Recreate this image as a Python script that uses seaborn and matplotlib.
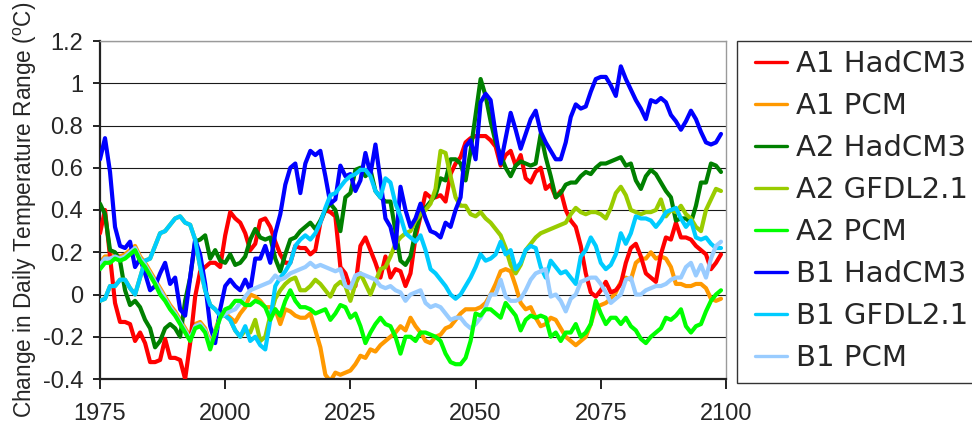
import matplotlib
matplotlib.use("Agg")
import matplotlib.pyplot as plt
import pandas as pd
import seaborn as sns
from matplotlib.lines import Line2D
from matplotlib.patches import Rectangle

# ---------------- data (one value per year 1975..2099) ----------------
YEARS = list(range(1975, 2100))

A1_HADCM3 = [
    0.29, 0.40, 0.18, -0.04, -0.13, -0.13, -0.14, -0.22, -0.18, -0.23,
    -0.32, -0.32, -0.31, -0.21, -0.30, -0.30, -0.31, -0.40, -0.23, -0.01,
    0.11, 0.13, 0.15, 0.15, 0.13, 0.28, 0.39, 0.36, 0.34, 0.29,
    0.21, 0.24, 0.35, 0.36, 0.32, 0.25, 0.19, 0.15, 0.15, 0.23,
    0.22, 0.22, 0.19, 0.21, 0.34, 0.40, 0.39, 0.37, 0.13, 0.10,
    0.03, 0.04, 0.23, 0.27, 0.21, 0.15, 0.08, 0.18, 0.08, 0.12,
    0.11, 0.04, 0.10, 0.27, 0.37, 0.48, 0.46, 0.46, 0.47, 0.44,
    0.57, 0.62, 0.65, 0.72, 0.74, 0.75, 0.75, 0.75, 0.73, 0.70,
    0.61, 0.66, 0.68, 0.61, 0.66, 0.55, 0.53, 0.58, 0.60, 0.50,
    0.52, 0.46, 0.49, 0.40, 0.35, 0.32, 0.23, 0.10, 0.01, -0.01,
    0.02, 0.06, 0.01, 0.02, 0.05, 0.15, 0.22, 0.24, 0.18, 0.10,
    0.08, 0.06, 0.19, 0.27, 0.26, 0.34, 0.27, 0.27, 0.26, 0.23,
    0.21, 0.19, 0.12, 0.15, 0.19,
]

A1_PCM = [
    0.15, 0.18, 0.18, 0.19, 0.18, 0.19, 0.21, 0.23, 0.18, 0.15,
    0.11, 0.07, 0.03, -0.01, -0.05, -0.08, -0.12, -0.16, -0.20, -0.14,
    -0.13, -0.16, -0.23, -0.17, -0.10, -0.09, -0.11, -0.13, -0.09, -0.06,
    0.00, -0.01, -0.03, -0.06, -0.06, -0.07, -0.14, -0.07, -0.08, -0.10,
    -0.11, -0.11, -0.09, -0.17, -0.25, -0.38, -0.41, -0.37, -0.38, -0.37,
    -0.36, -0.33, -0.29, -0.30, -0.26, -0.27, -0.24, -0.22, -0.20, -0.18,
    -0.15, -0.17, -0.11, -0.15, -0.18, -0.22, -0.23, -0.20, -0.19, -0.16,
    -0.15, -0.12, -0.09, -0.07, -0.07, -0.07, -0.06, -0.04, 0.00, 0.05,
    0.11, 0.12, 0.11, 0.04, -0.04, -0.07, -0.06, -0.11, -0.15, -0.14,
    -0.11, -0.12, -0.16, -0.20, -0.22, -0.24, -0.22, -0.20, -0.14, -0.06,
    -0.05, -0.04, -0.02, 0.01, 0.06, 0.08, 0.07, 0.15, 0.17, 0.17,
    0.20, 0.17, 0.18, 0.17, 0.13, 0.05, 0.05, 0.04, 0.04, 0.05,
    0.05, 0.03, -0.02, -0.03, -0.02,
]

A2_HADCM3 = [
    0.43, 0.38, 0.21, 0.20, 0.16, 0.02, -0.05, -0.03, -0.06, -0.12,
    -0.16, -0.25, -0.22, -0.16, -0.14, -0.16, -0.20, -0.03, 0.08, 0.25,
    0.26, 0.28, 0.17, 0.21, 0.16, 0.15, 0.19, 0.14, 0.15, 0.18,
    0.26, 0.31, 0.27, 0.26, 0.27, 0.17, 0.11, 0.19, 0.26, 0.27,
    0.30, 0.32, 0.34, 0.31, 0.35, 0.40, 0.43, 0.40, 0.30, 0.46,
    0.48, 0.59, 0.60, 0.56, 0.59, 0.49, 0.46, 0.44, 0.44, 0.30,
    0.16, 0.14, 0.18, 0.30, 0.38, 0.41, 0.44, 0.47, 0.55, 0.54,
    0.64, 0.64, 0.62, 0.54, 0.68, 0.85, 1.02, 0.94, 0.82, 0.72,
    0.66, 0.60, 0.56, 0.61, 0.63, 0.62, 0.61, 0.62, 0.76, 0.65,
    0.56, 0.46, 0.48, 0.52, 0.53, 0.53, 0.56, 0.58, 0.57, 0.60,
    0.62, 0.62, 0.63, 0.64, 0.65, 0.61, 0.62, 0.54, 0.50, 0.56,
    0.59, 0.57, 0.53, 0.49, 0.46, 0.35, 0.36, 0.36, 0.34, 0.42,
    0.53, 0.53, 0.62, 0.61, 0.58,
]

A2_GFDL21 = [
    -0.03, -0.02, 0.04, 0.04, 0.07, 0.07, 0.03, 0.00, 0.08, 0.16,
    0.17, 0.23, 0.29, 0.30, 0.33, 0.36, 0.37, 0.34, 0.33, 0.26,
    0.13, 0.02, -0.05, -0.07, -0.10, -0.10, -0.12, -0.17, -0.20, -0.17,
    -0.18, -0.12, -0.22, -0.20, -0.10, -0.02, 0.02, 0.05, 0.07, 0.08,
    0.02, 0.02, 0.04, 0.07, 0.05, 0.02, -0.01, 0.04, 0.06, 0.04,
    -0.03, 0.05, 0.10, 0.05, 0.00, 0.06, 0.12, 0.13, 0.18, 0.24,
    0.27, 0.29, 0.30, 0.35, 0.38, 0.40, 0.43, 0.50, 0.68, 0.67,
    0.56, 0.46, 0.42, 0.42, 0.38, 0.37, 0.39, 0.36, 0.34, 0.31,
    0.28, 0.22, 0.14, 0.10, 0.14, 0.21, 0.24, 0.27, 0.29, 0.30,
    0.31, 0.32, 0.33, 0.34, 0.38, 0.41, 0.39, 0.38, 0.39, 0.39,
    0.38, 0.36, 0.41, 0.48, 0.51, 0.47, 0.40, 0.39, 0.38, 0.39,
    0.39, 0.40, 0.45, 0.37, 0.40, 0.39, 0.42, 0.38, 0.36, 0.32,
    0.30, 0.40, 0.45, 0.50, 0.49,
]

A2_PCM = [
    0.12, 0.15, 0.15, 0.17, 0.16, 0.17, 0.19, 0.21, 0.16, 0.13,
    0.09, 0.05, 0.00, -0.03, -0.07, -0.10, -0.14, -0.18, -0.22, -0.16,
    -0.15, -0.18, -0.26, -0.18, -0.11, -0.07, -0.06, -0.03, -0.03, -0.05,
    -0.05, -0.03, -0.04, -0.06, -0.12, -0.07, -0.10, -0.03, 0.02, -0.03,
    -0.06, -0.06, -0.07, -0.09, -0.08, -0.07, -0.12, -0.09, -0.05, -0.06,
    -0.11, -0.09, -0.15, -0.23, -0.18, -0.14, -0.11, -0.14, -0.15, -0.20,
    -0.28, -0.20, -0.20, -0.22, -0.18, -0.18, -0.19, -0.20, -0.22, -0.28,
    -0.32, -0.33, -0.33, -0.30, -0.22, -0.09, -0.10, -0.07, -0.07, -0.09,
    -0.11, -0.04, -0.07, -0.10, -0.17, -0.12, -0.10, -0.11, -0.10, -0.11,
    -0.20, -0.18, -0.22, -0.18, -0.18, -0.14, -0.20, -0.18, -0.14, -0.03,
    -0.09, -0.14, -0.11, -0.11, -0.14, -0.11, -0.15, -0.17, -0.21, -0.23,
    -0.20, -0.18, -0.16, -0.11, -0.12, -0.10, -0.07, -0.15, -0.18, -0.15,
    -0.14, -0.08, -0.03, 0.00, 0.02,
]

B1_HADCM3 = [
    0.64, 0.74, 0.58, 0.32, 0.23, 0.22, 0.25, 0.13, 0.17, 0.10,
    0.02, 0.04, 0.10, 0.15, 0.05, 0.08, -0.07, -0.10, 0.08, 0.26,
    0.19, 0.05, -0.15, -0.23, -0.07, 0.04, 0.07, 0.04, 0.02, 0.07,
    0.02, 0.17, 0.17, 0.23, 0.15, 0.29, 0.38, 0.52, 0.60, 0.62,
    0.48, 0.62, 0.68, 0.66, 0.68, 0.56, 0.43, 0.45, 0.61, 0.56,
    0.57, 0.49, 0.54, 0.67, 0.57, 0.71, 0.54, 0.36, 0.32, 0.22,
    0.51, 0.40, 0.32, 0.36, 0.43, 0.36, 0.30, 0.29, 0.27, 0.34,
    0.32, 0.40, 0.46, 0.70, 0.73, 0.64, 0.91, 0.95, 0.92, 0.76,
    0.62, 0.74, 0.86, 0.78, 0.69, 0.76, 0.83, 0.87, 0.77, 0.72,
    0.68, 0.64, 0.64, 0.72, 0.84, 0.90, 0.88, 0.89, 0.96, 1.02,
    1.03, 1.03, 0.99, 0.94, 1.08, 1.02, 0.97, 0.92, 0.88, 0.83,
    0.92, 0.91, 0.93, 0.91, 0.85, 0.82, 0.78, 0.82, 0.87, 0.83,
    0.77, 0.72, 0.71, 0.72, 0.76,
]

B1_GFDL21 = [
    -0.03, -0.02, 0.04, 0.04, 0.07, 0.07, 0.03, 0.00, 0.08, 0.16,
    0.17, 0.23, 0.29, 0.30, 0.33, 0.36, 0.37, 0.34, 0.33, 0.26,
    0.13, 0.02, -0.05, -0.07, -0.10, -0.10, -0.12, -0.17, -0.20, -0.15,
    -0.22, -0.20, -0.24, -0.26, -0.12, 0.04, 0.08, 0.11, 0.15, 0.23,
    0.26, 0.28, 0.26, 0.29, 0.34, 0.41, 0.47, 0.48, 0.51, 0.54,
    0.56, 0.57, 0.59, 0.59, 0.56, 0.49, 0.46, 0.55, 0.53, 0.43,
    0.37, 0.29, 0.27, 0.25, 0.28, 0.21, 0.12, 0.10, 0.07, 0.04,
    0.00, -0.02, 0.00, 0.04, 0.08, 0.13, 0.19, 0.16, 0.17, 0.19,
    0.25, 0.19, 0.21, 0.12, 0.15, 0.21, 0.23, 0.22, 0.13, 0.08,
    0.16, 0.13, 0.10, 0.11, 0.08, 0.05, 0.18, 0.21, 0.27, 0.23,
    0.15, 0.12, 0.14, 0.19, 0.29, 0.24, 0.29, 0.37, 0.36, 0.36,
    0.35, 0.32, 0.35, 0.39, 0.40, 0.41, 0.36, 0.32, 0.35, 0.27,
    0.26, 0.27, 0.24, 0.22, 0.22,
]

B1_PCM = [
    0.14, 0.17, 0.17, 0.18, 0.17, 0.18, 0.20, 0.22, 0.17, 0.14,
    0.10, 0.06, 0.02, -0.02, -0.06, -0.09, -0.13, -0.17, -0.21, -0.15,
    -0.14, -0.17, -0.24, -0.18, -0.11, -0.09, -0.08, -0.07, -0.04, -0.01,
    0.02, 0.03, 0.04, 0.05, 0.06, 0.09, 0.07, 0.08, 0.10, 0.11,
    0.12, 0.13, 0.15, 0.13, 0.14, 0.13, 0.12, 0.11, 0.12, 0.04,
    0.03, 0.09, 0.10, 0.09, 0.08, 0.07, 0.04, 0.03, 0.04, 0.02,
    0.01, -0.03, 0.00, 0.01, 0.02, -0.04, -0.06, -0.05, -0.06, -0.09,
    -0.12, -0.11, -0.11, -0.14, -0.16, -0.14, -0.11, -0.06, 0.00, 0.00,
    0.07, -0.01, -0.03, -0.03, -0.02, 0.02, 0.07, 0.10, 0.11, 0.12,
    -0.01, 0.00, -0.03, -0.08, -0.02, 0.00, 0.06, 0.07, 0.08, 0.08,
    0.05, 0.01, -0.04, -0.02, 0.00, 0.07, 0.08, 0.00, 0.00, 0.02,
    0.03, 0.04, 0.04, 0.05, 0.07, 0.08, 0.08, 0.13, 0.15, 0.09,
    0.14, 0.08, 0.17, 0.23, 0.25,
]

SERIES_NAMES = ["A1 HadCM3", "A1 PCM", "A2 HadCM3", "A2 GFDL2.1",
                "A2 PCM", "B1 HadCM3", "B1 GFDL2.1", "B1 PCM"]
SERIES_VALUES = [A1_HADCM3, A1_PCM, A2_HADCM3, A2_GFDL21,
                 A2_PCM, B1_HADCM3, B1_GFDL21, B1_PCM]
COLORS = ["#FF0000", "#FF9900", "#008000", "#99CC00",
          "#00FF00", "#0000FF", "#00CCFF", "#99CCFF"]
ZORDERS = [3, 2, 3, 3, 4, 3, 3, 3]

XTICKS = [1975, 2000, 2025, 2050, 2075, 2100]
YTICKS = [-0.4, -0.2, 0.0, 0.2, 0.4, 0.6, 0.8, 1.0, 1.2]
YTICK_LABELS = ["-0.4", "-0.2", "0", "0.2", "0.4", "0.6", "0.8", "1", "1.2"]
YLABEL = r"Change in Daily Temperature Range ($^{\mathrm{o}}$C)"

# ---------------- figure ----------------
sns.set_style("white")
plt.rcParams["font.family"] = ["Liberation Sans", "DejaVu Sans"]
plt.rcParams["mathtext.fontset"] = "custom"
plt.rcParams["mathtext.rm"] = "Liberation Sans"

W, H = 972, 425
fig = plt.figure(figsize=(W / 100, H / 100), dpi=100)
fig.patch.set_facecolor("white")
ax = fig.add_axes([100 / W, 1 - 379 / H, 626 / W, 338 / H])

df = pd.concat(
    [pd.DataFrame({"Year": YEARS, "Value": vals, "Series": name})
     for name, vals in zip(SERIES_NAMES, SERIES_VALUES)],
    ignore_index=True,
)

for name, color, z in zip(SERIES_NAMES, COLORS, ZORDERS):
    sns.lineplot(data=df[df["Series"] == name], x="Year", y="Value",
                 color=color, linewidth=3.0, estimator=None, ax=ax,
                 legend=False, zorder=z)

ax.set_xlim(1975, 2100)
ax.set_ylim(-0.4, 1.2)
ax.set_xticks(XTICKS)
ax.set_xticklabels([str(t) for t in XTICKS])
ax.set_yticks(YTICKS)
ax.set_yticklabels(YTICK_LABELS)
ax.set_xlabel("")
ax.set_ylabel(YLABEL, fontsize=16.3, labelpad=3)

ax.yaxis.grid(True, color="#1a1a1a", linewidth=0.8)
ax.xaxis.grid(False)
ax.set_axisbelow(True)

for side in ["left", "bottom"]:
    ax.spines[side].set_color("#222222")
    ax.spines[side].set_linewidth(1.6)
for side in ["top", "right"]:
    ax.spines[side].set_visible(True)
    ax.spines[side].set_color("#9a9a9a")
    ax.spines[side].set_linewidth(1.0)

ax.tick_params(axis="y", direction="out", length=5, width=1.4,
               color="#222222", pad=7, labelsize=17, left=True)
ax.tick_params(axis="x", direction="out", length=7, width=1.4,
               color="#222222", pad=10, labelsize=17, bottom=True)

# legend box drawn as its own frame, entries placed inside it
fig.add_artist(Rectangle((737 / W, 1 - 383 / H), 260 / W, 342 / H,
                         transform=fig.transFigure, fill=True,
                         facecolor="white", edgecolor="#333333",
                         linewidth=1.0, zorder=1))
handles = [Line2D([], [], color=c, linewidth=2.4) for c in COLORS]
leg = fig.legend(handles, SERIES_NAMES, loc="upper left",
                 bbox_to_anchor=(755 / W, 1 - 50 / H),
                 bbox_transform=fig.transFigure,
                 prop={"family": "DejaVu Sans", "size": 21},
                 frameon=False, borderpad=0, labelspacing=0.48,
                 handlelength=1.1, handletextpad=0.3, borderaxespad=0)
leg.set_zorder(2)

fig.savefig("out.png", dpi=100, facecolor="white")
